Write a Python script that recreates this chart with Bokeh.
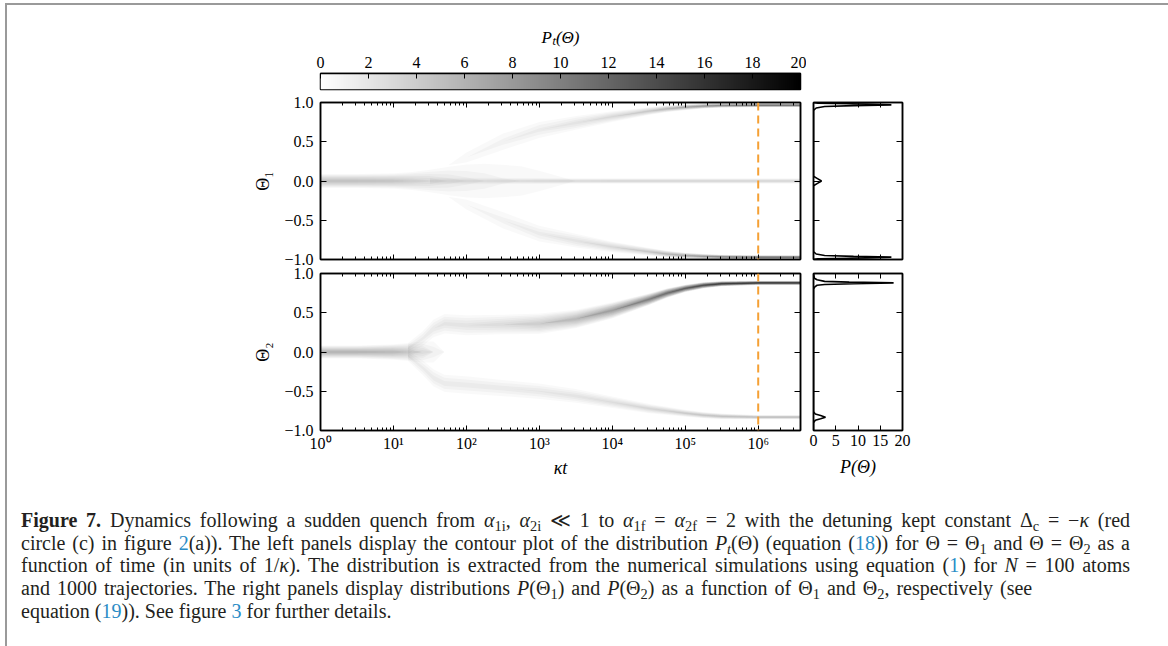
import numpy as np
from bokeh.plotting import figure
from bokeh.models import (Range1d, LogAxis, LinearAxis, FixedTicker, CustomJSTickFormatter,
                          ColorBar, LinearColorMapper, Span, Div)
from bokeh.layouts import column, row
from bokeh.palettes import Greys256
from bokeh.embed import file_html
from bokeh.resources import INLINE

# ---------------- data ----------------
cbar_ticks = [0, 2, 4, 6, 8, 10, 12, 14, 16, 18, 20]
kt_start, kt_end = 1.0, 3.8e6
kt_decades = [1, 10, 100, 1e3, 1e4, 1e5, 1e6]
kt_marker = 1e6
theta_ticks = [-1.0, -0.5, 0.0, 0.5, 1.0]
side_ticks = [0, 5, 10, 15, 20]

# Theta_1 panel: branches given as log10(kappa t), centre, half width, peak density
th1_core_lt = [0.0, 0.5, 1.0, 1.25, 1.5, 1.75, 2.0, 2.25, 2.5, 2.75, 3.0, 3.5, 4.0]
th1_core_c = [0, 0, 0, 0, 0, 0, 0, 0, 0, 0, 0, 0, 0]
th1_core_hw = [0.1, 0.1, 0.11, 0.13, 0.17, 0.23, 0.29, 0.34, 0.38, 0.42, 0.46, 0.5, 0.5]
th1_core_d = [5.0, 5.0, 4.6, 4.0, 3.2, 2.4, 1.8, 1.4, 1.1, 0.9, 0.7, 0.4, 0.0]

th1_mid_lt = [1.5, 2.0, 2.5, 3.0, 3.5, 4.0, 4.5, 5.0, 5.5, 6.0, 6.58]
th1_mid_c = [0, 0, 0, 0, 0, 0, 0, 0, 0, 0, 0]
th1_mid_hw = [0.06, 0.055, 0.05, 0.045, 0.04, 0.04, 0.04, 0.04, 0.04, 0.04, 0.04]
th1_mid_d = [1.5, 2.0, 2.5, 3.0, 3.4, 3.6, 3.6, 3.6, 3.6, 3.6, 3.6]

th1_up_lt = [1.75, 2.0, 2.5, 3.0, 3.5, 4.0, 4.5, 4.75, 5.0, 5.25, 5.5, 6.0, 6.58]
th1_up_c = [0.2, 0.3, 0.5, 0.65, 0.74, 0.82, 0.89, 0.92, 0.94, 0.955, 0.962, 0.965, 0.965]
th1_up_hw = [0.15, 0.17, 0.17, 0.14, 0.11, 0.08, 0.055, 0.047, 0.04, 0.034, 0.03, 0.025, 0.025]
th1_up_d = [0.5, 0.8, 1.3, 1.8, 2.4, 3.2, 4.5, 5.7, 7.0, 8.5, 10.0, 12.0, 12.0]

th1_lo_lt = [1.75, 2.0, 2.5, 3.0, 3.5, 4.0, 4.5, 4.75, 5.0, 5.25, 5.5, 6.0, 6.58]
th1_lo_c = [-0.2, -0.3, -0.5, -0.67, -0.76, -0.84, -0.9, -0.93, -0.95, -0.96, -0.967, -0.97, -0.97]
th1_lo_hw = [0.15, 0.17, 0.17, 0.14, 0.11, 0.08, 0.055, 0.047, 0.04, 0.034, 0.03, 0.025, 0.025]
th1_lo_d = [0.5, 0.8, 1.3, 1.8, 2.4, 3.2, 4.5, 5.7, 7.0, 8.5, 10.0, 12.0, 12.0]

# Theta_2 panel
th2_core_lt = [0.0, 0.5, 1.0, 1.2, 1.4, 1.55, 1.7]
th2_core_c = [0, 0, 0, 0, 0, 0, 0]
th2_core_hw = [0.09, 0.09, 0.11, 0.13, 0.16, 0.2, 0.25]
th2_core_d = [6.0, 6.0, 5.5, 4.5, 3.0, 1.5, 0.4]

th2_up_lt = [1.2, 1.4, 1.55, 1.7, 2.0, 2.5, 3.0, 3.5, 4.0, 4.5, 4.75, 5.0, 5.25, 5.5, 6.0, 6.58]
th2_up_c = [0.05, 0.17, 0.3, 0.36, 0.34, 0.35, 0.36, 0.42, 0.53, 0.67, 0.75, 0.81, 0.85, 0.87, 0.88, 0.88]
th2_up_hw = [0.09, 0.13, 0.15, 0.16, 0.16, 0.15, 0.15, 0.13, 0.11, 0.08, 0.065, 0.05, 0.042, 0.035, 0.028, 0.028]
th2_up_d = [1.8, 1.8, 2.0, 2.3, 2.4, 3.0, 4.0, 5.5, 7.5, 10.0, 11.5, 13.0, 14.5, 16.0, 17.0, 17.0]

th2_lo_lt = [1.2, 1.4, 1.55, 1.7, 2.0, 2.5, 3.0, 3.5, 4.0, 4.5, 4.75, 5.0, 5.25, 5.5, 6.0, 6.58]
th2_lo_c = [-0.05, -0.2, -0.33, -0.4, -0.42, -0.46, -0.5, -0.56, -0.64, -0.72, -0.75, -0.78, -0.805, -0.82, -0.83, -0.83]
th2_lo_hw = [0.09, 0.13, 0.15, 0.15, 0.15, 0.14, 0.13, 0.11, 0.09, 0.07, 0.06, 0.05, 0.045, 0.04, 0.03, 0.03]
th2_lo_d = [1.8, 1.8, 1.9, 1.9, 1.9, 1.9, 2.1, 2.4, 2.8, 3.4, 3.8, 4.2, 4.6, 5.0, 5.5, 5.5]

# side distributions at kappa t = 1e6
p1_theta = [-1.0, -0.99, -0.98, -0.97, -0.96, -0.95, -0.93, -0.9, -0.06, -0.03, 0.0, 0.03, 0.06,
            0.9, 0.93, 0.95, 0.96, 0.97, 0.98, 0.99, 1.0]
p1_vals = [0.0, 1.0, 12.0, 17.5, 9.0, 2.5, 0.6, 0.0, 0.0, 0.9, 1.8, 0.9, 0.0,
           0.0, 0.6, 2.5, 9.0, 17.5, 12.0, 1.0, 0.0]
p2_theta = [-1.0, -0.9, -0.87, -0.85, -0.83, -0.81, -0.79, -0.76, 0.8, 0.83, 0.85, 0.86, 0.87,
            0.88, 0.89, 0.9, 0.92, 0.94, 1.0]
p2_vals = [0.0, 0.0, 0.4, 1.6, 2.7, 1.6, 0.4, 0.0, 0.0, 0.3, 0.8, 2.5, 9.0,
           18.0, 8.0, 2.5, 0.8, 0.2, 0.0]

caption_lines = [
    '<b>Figure 7.</b> Dynamics following a sudden quench from <i>α</i><sub>1i</sub>, <i>α</i><sub>2i</sub> ≪ 1 to '
    '<i>α</i><sub>1f</sub> = <i>α</i><sub>2f</sub> = 2 with the detuning kept constant Δ<sub>c</sub> = −<i>κ</i> (red',
    'circle (c) in figure <L>2</L>(a)). The left panels display the contour plot of the distribution '
    '<i>P<sub>t</sub></i>(Θ) (equation (<L>18</L>)) for Θ = Θ<sub>1</sub> and Θ = Θ<sub>2</sub> as a',
    'function of time (in units of 1/<i>κ</i>). The distribution is extracted from the numerical simulations '
    'using equation (<L>1</L>) for <i>N</i> = 100 atoms',
    'and 1000 trajectories. The right panels display distributions <i>P</i>(Θ<sub>1</sub>) and '
    '<i>P</i>(Θ<sub>2</sub>) as a function of Θ<sub>1</sub> and Θ<sub>2</sub>, respectively (see',
    'equation (<L>19</L>)). See figure <L>3</L> for further details.',
]

# ---------------- styling ----------------
FONT = "Liberation Serif"
ORANGE = "#f5a034"
LEVEL_STEP = 0.5
ZMAX = 20.0


def style_axis(ax, ticker, formatter=None, labels=True, major_in=5, minor_in=0):
    ax.ticker = ticker
    if formatter is not None:
        ax.formatter = formatter
    ax.axis_line_color = "black"
    ax.axis_line_width = 1.5
    ax.major_tick_in = major_in
    ax.major_tick_out = 0
    ax.major_tick_line_color = "black"
    ax.major_tick_line_width = 1
    ax.minor_tick_in = minor_in
    ax.minor_tick_out = 0
    ax.minor_tick_line_color = "black" if minor_in else None
    ax.major_label_text_font = FONT
    if labels:
        ax.major_label_text_color = "black"
        ax.major_label_text_font_size = "16px"
        ax.major_label_standoff = 6
    else:
        ax.major_label_text_color = None
        ax.major_label_text_font_size = "1px"
        ax.major_label_standoff = 0
    ax.axis_label_text_font = FONT
    ax.axis_label_text_font_style = "normal"
    ax.axis_label_text_font_size = "18px"
    ax.axis_label_text_color = "black"


theta_fmt = CustomJSTickFormatter(code="return (tick < 0 ? '\u2212' : '') + Math.abs(tick).toFixed(1);")
pow_fmt = CustomJSTickFormatter(code="""
const sup = {'0':'\u2070','1':'\u00b9','2':'\u00b2','3':'\u00b3','4':'\u2074','5':'\u2075',
             '6':'\u2076','7':'\u2077','8':'\u2078','9':'\u2079','-':'\u207b'};
const e = Math.round(Math.log10(tick));
return '10' + String(e).split('').map(c => sup[c]).join('');
""")

minor_kt = [m * d for d in kt_decades for m in range(2, 10) if m * d <= kt_end]


def kt_ticker():
    return FixedTicker(ticks=kt_decades, minor_ticks=minor_kt)


def draw_branch(p, lt, c, hw, d):
    kt = np.power(10.0, np.asarray(lt, dtype=float))
    c = np.asarray(c, dtype=float)
    hw = np.asarray(hw, dtype=float)
    d = np.asarray(d, dtype=float)
    n = int(np.ceil(d.max() / LEVEL_STEP))
    for k in range(1, n + 1):
        lev = k * LEVEL_STEP
        frac = np.clip(1.0 - lev / np.maximum(d, 1e-9), 0.0, None)
        w = hw * frac
        a_prev = min((k - 1) * LEVEL_STEP / ZMAX, 0.999)
        a_now = min(k * LEVEL_STEP / ZMAX, 1.0)
        alpha = 1.0 - (1.0 - a_now) / (1.0 - a_prev)
        p.varea(x=kt, y1=c - w, y2=c + w, fill_color="black", fill_alpha=alpha)


def heat_fig(height, top_border, bottom_border, show_x_labels, ylabel):
    p = figure(width=799, height=height, x_axis_type="log",
               x_range=Range1d(kt_start, kt_end), y_range=Range1d(-1, 1),
               output_backend="svg", toolbar_location=None,
               min_border_left=313, min_border_right=6, min_border_top=top_border,
               min_border_bottom=bottom_border)
    p.grid.visible = False
    p.outline_line_color = "black"
    p.outline_line_width = 1.5
    p.border_fill_alpha = 0
    style_axis(p.xaxis[0], kt_ticker(), pow_fmt if show_x_labels else None,
               labels=show_x_labels, major_in=5, minor_in=3)
    if show_x_labels:
        p.xaxis[0].axis_label = "κt"
        p.xaxis[0].axis_label_text_font_style = "italic"
        p.xaxis[0].major_label_standoff = 4
        p.xaxis[0].axis_label_standoff = 3
    top = LogAxis()
    style_axis(top, kt_ticker(), labels=False, major_in=5, minor_in=3)
    p.add_layout(top, "above")
    style_axis(p.yaxis[0], FixedTicker(ticks=theta_ticks), theta_fmt, labels=True, major_in=6)
    p.yaxis[0].axis_label = ylabel
    p.yaxis[0].axis_label_standoff = 8
    p.yaxis[0].major_label_standoff = 7
    right = LinearAxis()
    style_axis(right, FixedTicker(ticks=theta_ticks), labels=False, major_in=6)
    p.add_layout(right, "right")
    return p


def side_fig(height, top_border, bottom_border, show_x_labels, theta, vals):
    p = figure(width=106, height=height, x_range=Range1d(0, 20), y_range=Range1d(-1, 1),
               output_backend="svg", toolbar_location=None,
               min_border_left=7, min_border_right=10, min_border_top=top_border,
               min_border_bottom=bottom_border)
    p.grid.visible = False
    p.outline_line_color = "black"
    p.outline_line_width = 1.5
    p.border_fill_alpha = 0
    style_axis(p.xaxis[0], FixedTicker(ticks=side_ticks), labels=show_x_labels, major_in=5)
    if show_x_labels:
        p.xaxis[0].axis_label = "P(Θ)"
        p.xaxis[0].axis_label_text_font_style = "italic"
        p.xaxis[0].major_label_standoff = 4
        p.xaxis[0].axis_label_standoff = 8
    top = LinearAxis()
    style_axis(top, FixedTicker(ticks=side_ticks), labels=False, major_in=5)
    p.add_layout(top, "above")
    style_axis(p.yaxis[0], FixedTicker(ticks=theta_ticks), labels=False, major_in=6)
    right = LinearAxis()
    style_axis(right, FixedTicker(ticks=theta_ticks), labels=False, major_in=6)
    p.add_layout(right, "right")
    p.line(x=vals, y=theta, line_color="black", line_width=1.6)
    return p


# ---------------- colour bar ----------------
fig_cb = figure(width=799, height=90, x_range=Range1d(0, 20), y_range=Range1d(0, 1),
                output_backend="svg", toolbar_location=None, y_axis_location=None,
                x_axis_location="above",
                min_border_left=313, min_border_right=6, min_border_top=68, min_border_bottom=6)
fig_cb.grid.visible = False
fig_cb.outline_line_color = "black"
fig_cb.outline_line_width = 1.5
style_axis(fig_cb.xaxis[0], FixedTicker(ticks=cbar_ticks), labels=True, major_in=5)
fig_cb.xaxis[0].axis_label = "Pₜ(Θ)"
fig_cb.xaxis[0].axis_label_text_font_style = "italic"
fig_cb.xaxis[0].axis_label_text_font_size = "17px"
fig_cb.xaxis[0].major_label_standoff = 6
fig_cb.xaxis[0].axis_label_standoff = 7
mapper = LinearColorMapper(palette=list(reversed(Greys256)), low=cbar_ticks[0], high=cbar_ticks[-1])
cb = ColorBar(color_mapper=mapper, orientation="horizontal", location=(0, 0), width=480, height=16,
              padding=0, margin=0, major_tick_line_color=None, minor_tick_line_color=None,
              major_label_text_font_size="1px", major_label_text_color=None, label_standoff=0,
              bar_line_color=None, background_fill_alpha=0, border_line_color=None, level="underlay")
fig_cb.add_layout(cb, "center")

# ---------------- panels ----------------
fig_top = heat_fig(179, 7, 15, False, "Θ₁")
draw_branch(fig_top, th1_core_lt, th1_core_c, th1_core_hw, th1_core_d)
draw_branch(fig_top, th1_mid_lt, th1_mid_c, th1_mid_hw, th1_mid_d)
draw_branch(fig_top, th1_up_lt, th1_up_c, th1_up_hw, th1_up_d)
draw_branch(fig_top, th1_lo_lt, th1_lo_c, th1_lo_hw, th1_lo_d)
fig_top.add_layout(Span(location=kt_marker, dimension="height", line_color=ORANGE,
                        line_width=2, line_dash="8 5"))

fig_bot = heat_fig(232, 15, 60, True, "Θ₂")
draw_branch(fig_bot, th2_core_lt, th2_core_c, th2_core_hw, th2_core_d)
draw_branch(fig_bot, th2_up_lt, th2_up_c, th2_up_hw, th2_up_d)
draw_branch(fig_bot, th2_lo_lt, th2_lo_c, th2_lo_hw, th2_lo_d)
fig_bot.add_layout(Span(location=kt_marker, dimension="height", line_color=ORANGE,
                        line_width=2, line_dash="8 5"))

side_top = side_fig(179, 7, 15, False, p1_theta, p1_vals)
side_bot = side_fig(232, 15, 60, True, p2_theta, p2_vals)

# ---------------- caption ----------------
SUB = '<sub style="font-size:0.72em;vertical-align:-0.28em;line-height:0">'
LINK = '<span style="color:#2a8cc6">'
parts = []
for i, ln in enumerate(caption_lines):
    h = ln.replace('<sub>', SUB).replace('<L>', LINK).replace('</L>', '</span>')
    last = "justify" if i < 3 else "left"
    extra = "word-spacing:2px;" if i == 3 else ""
    parts.append(f'<div style="white-space:nowrap;text-align:justify;text-align-last:{last};{extra}">{h}</div>')
caption_html = ('<div style="font-family:\'Liberation Serif\',serif;font-size:20px;line-height:22.7px;'
                'color:#231f20;padding:14px 0 0 9px;width:1118px;">' + ''.join(parts) + '</div>')
caption = Div(text=caption_html, width=1154, height=160)

layout = column(fig_cb, row(fig_top, side_top), row(fig_bot, side_bot, margin=(-16, 0, 0, 0)), caption,
                margin=(3, 0, 0, 5),
                styles={"border-top": "2px solid #9a9a9a", "border-left": "2px solid #9a9a9a",
                        "border-right": "2px solid #9a9a9a"})

open("out.html", "w").write(file_html(layout, INLINE))
